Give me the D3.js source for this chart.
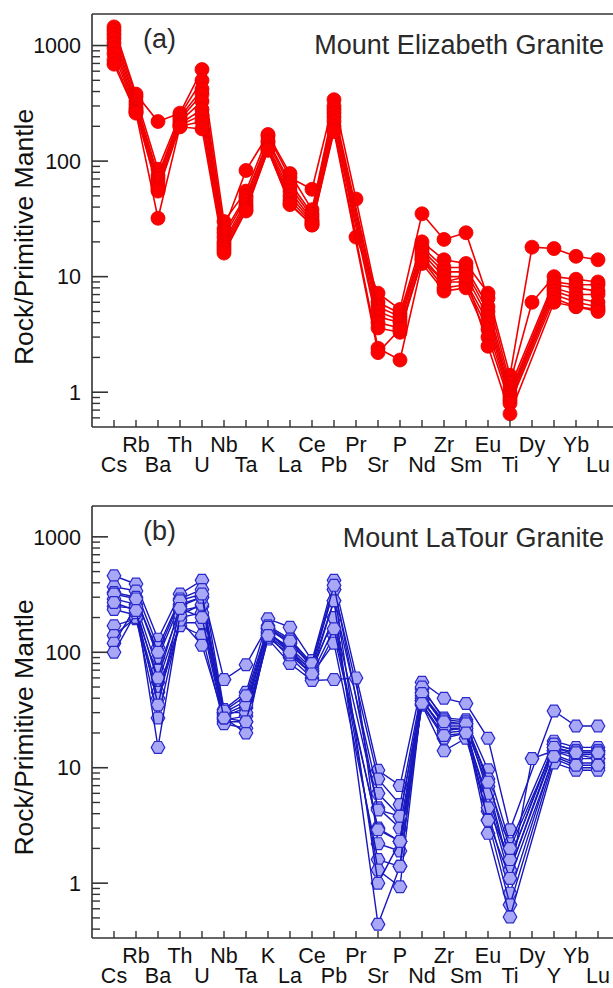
<!DOCTYPE html>
<html><head><meta charset="utf-8">
<script src="https://cdn.jsdelivr.net/npm/d3@7"></script>
<style>html,body{margin:0;padding:0;background:#fff;}svg{display:block;}</style>
</head><body>
<script>
// ---------- DATA ----------
const elements = ["Cs","Rb","Ba","Th","U","Nb","Ta","K","La","Ce","Pb","Pr","Sr","P","Nd","Zr","Sm","Eu","Ti","Dy","Y","Yb","Lu"];
const yTickLabels = ["1","10","100","1000"];
const yTickValues = [1, 10, 100, 1000];

// Mount Elizabeth Granite samples (rock / primitive mantle)
const ME1 = [1450,380,220,260,620,30,55,165,72,57,340,47,6,4.8,20,14,13,7.2,1.4,18,17.5,15,14];
const ME2 = [1350,360,85,250,500,26,83,170,78,38,300,22,7.2,5.2,35,21,24,6.5,1.2,6,10,9.5,9];
const ME3 = [1250,330,75,240,420,24,50,150,65,35,280,null,5.5,4.5,18,12,12,5.5,1.1,null,9,8.5,8.5];
const ME4 = [1150,310,70,230,380,22,48,145,60,33,260,null,5,4.2,17,11,11,5,1.0,null,8.5,8,7.5];
const ME5 = [1050,290,65,220,330,20,45,135,55,31,240,null,4.5,4,16,10,10,4.5,0.95,null,8,7,7];
const ME6 = [950,280,60,210,280,19,42,130,50,30,220,null,4,3.6,15,9,9,4,0.9,null,7.5,6.5,6];
const ME7 = [850,270,57,205,250,18,40,128,46,29,200,null,3.6,3.3,14,8,8.5,3.5,0.85,null,7,6,5.5];
const ME8 = [750,265,55,200,220,17,38,125,43,28,190,null,2.4,1.9,13,7.5,8,3,0.8,null,6.5,5.5,5.2];
const ME9 = [690,260,32,198,190,16,37,124,42,28,180,null,2.2,3.5,14,9,10,2.5,0.65,null,6,5.5,5];

// Mount LaTour Granite samples
const LT1  = [460,390,130,320,420,32,45,195,165,85,420,null,9.5,7,55,40,36,18,2.9,null,31,23,23];
const LT2  = [370,340,110,290,350,58,78,170,130,80,350,null,8,4.8,48,27,26,9.6,2.2,null,17,15,15];
const LT3  = [330,300,90,260,300,30,38,160,120,75,280,null,6,3.8,42,24,24,8,1.6,null,16,14,14];
const LT4  = [290,260,70,230,250,28,33,150,100,70,200,null,4.5,3,38,21,22,6.9,1.3,null,14,13,13];
const LT5  = [250,240,55,200,220,26,28,140,90,60,140,null,3,2.3,35,18,20,5.3,1.1,12,14,12,12];
const LT6  = [235,210,45,180,180,25,25,130,80,57,58,60,2.2,1.9,35,14,18,4.2,0.82,null,13,11,11];
const LT7  = [170,195,40,170,140,24,22,135,95,65,120,null,1.6,1.4,45,23,23,3.5,0.65,null,12,10,10];
const LT8  = [140,200,27,190,115,27,20,145,110,72,200,null,1.3,0.93,40,20,21,2.7,0.51,null,11,9.5,9.5];
const LT9  = [120,250,15,210,260,30,30,160,120,78,350,null,1.0,2.3,50,26,25,6,1.3,null,15,13,12];
const LT10 = [100,220,60,250,300,29,35,150,105,68,280,null,0.44,1.4,38,22,22,4.5,1.6,null,16,14,14];
const LT11 = [320,290,100,280,320,31,42,165,125,80,380,null,4.3,3.8,44,25,24,7.5,2.0,null,15,13.5,13.5];
const LT12 = [270,230,35,240,200,27,25,140,100,65,160,null,2.9,2.3,36,19,20,3.5,1.1,null,12.5,10.5,10.5];

const elizabethSamples = [ME1,ME2,ME3,ME4,ME5,ME6,ME7,ME8,ME9];
const latourSamples = [LT1,LT2,LT3,LT4,LT5,LT6,LT7,LT8,LT9,LT10,LT11,LT12];

// ---------- DRAW ----------
const W = 613, H = 988;
const FONT = "'Liberation Sans', Arial, Helvetica, sans-serif";
const svg = d3.select("body").append("svg").attr("width", W).attr("height", H)
  .style("font-family", FONT);

const x = d3.scaleLinear().domain([-1, elements.length - 1]).range([92, 598]);

function hexPath(r) {
  const p = d3.path();
  for (let k = 0; k < 6; k++) {
    const a = Math.PI / 3 * k;
    const px = r * Math.cos(a), py = r * Math.sin(a);
    if (k === 0) p.moveTo(px, py); else p.lineTo(px, py);
  }
  p.closePath();
  return p.toString();
}

function drawPanel(cfg) {
  const g = svg.append("g");
  const y = d3.scaleLog().domain(cfg.yDomain).range([cfg.bottom, cfg.top]);
  const axisColor = "#333";

  // data
  const line = d3.line().x(d => x(d.i)).y(d => y(d.v));
  cfg.samples.forEach(s => {
    const pts = s.map((v, i) => ({i, v})).filter(d => d.v != null);
    const sg = g.append("g");
    sg.append("path").attr("d", line(pts)).attr("fill", "none")
      .attr("stroke", cfg.lineColor).attr("stroke-width", cfg.lineWidth);
    if (cfg.marker === "circle") {
      sg.selectAll("circle").data(pts).join("circle")
        .attr("cx", d => x(d.i)).attr("cy", d => y(d.v)).attr("r", 7)
        .attr("fill", cfg.fill).attr("stroke", cfg.stroke).attr("stroke-width", 0.8);
    } else {
      const hp = hexPath(6.8);
      sg.selectAll("path.m").data(pts).join("path").attr("class", "m")
        .attr("d", hp).attr("transform", d => `translate(${x(d.i)},${y(d.v)})`)
        .attr("fill", cfg.fill).attr("stroke", cfg.stroke).attr("stroke-width", 1.2);
    }
  });

  // frame
  g.append("line").attr("x1", 92).attr("x2", W).attr("y1", cfg.top).attr("y2", cfg.top)
    .attr("stroke", axisColor).attr("stroke-width", 1.6);
  g.append("line").attr("x1", 92).attr("x2", W).attr("y1", cfg.bottom).attr("y2", cfg.bottom)
    .attr("stroke", axisColor).attr("stroke-width", 1.6);
  g.append("line").attr("x1", 92).attr("x2", 92).attr("y1", cfg.top).attr("y2", cfg.bottom)
    .attr("stroke", axisColor).attr("stroke-width", 1.6);

  // y ticks
  const [lo, hi] = cfg.yDomain;
  const minors = [];
  for (let e = -2; e <= 4; e++) for (let m = 2; m <= 9; m++) {
    const v = m * Math.pow(10, e);
    if (v > lo * 1.001 && v < hi) minors.push(v);
  }
  g.selectAll("line.minor").data(minors).join("line").attr("class", "minor")
    .attr("x1", 92).attr("x2", 100).attr("y1", d => y(d)).attr("y2", d => y(d))
    .attr("stroke", axisColor).attr("stroke-width", 1.4);
  g.selectAll("line.major").data(yTickValues).join("line").attr("class", "major")
    .attr("x1", 92).attr("x2", 108).attr("y1", d => y(d)).attr("y2", d => y(d))
    .attr("stroke", axisColor).attr("stroke-width", 1.6);
  g.selectAll("text.ylab").data(yTickValues).join("text").attr("class", "ylab")
    .attr("x", 81).attr("y", d => y(d)).attr("dy", "0.36em")
    .attr("text-anchor", "end").attr("font-size", 21.5).attr("fill", "#111")
    .text((d, i) => yTickLabels[i]);

  // x ticks & labels
  g.selectAll("line.xt").data(elements).join("line").attr("class", "xt")
    .attr("x1", (d, i) => x(i)).attr("x2", (d, i) => x(i))
    .attr("y1", cfg.bottom).attr("y2", cfg.bottom - 7)
    .attr("stroke", axisColor).attr("stroke-width", 1.4);
  g.selectAll("text.xl").data(elements).join("text").attr("class", "xl")
    .attr("x", (d, i) => x(i))
    .attr("y", (d, i) => cfg.bottom + (i % 2 === 1 ? 25 : 44.5))
    .attr("text-anchor", "middle").attr("font-size", 21.5).attr("fill", "#111")
    .text(d => d);

  // axis title
  g.append("text").attr("transform", `translate(33,${cfg.titleY}) rotate(-90)`)
    .attr("text-anchor", "middle").attr("font-size", 26.5).attr("fill", "#111")
    .text("Rock/Primitive Mantle");

  // panel labels
  g.append("text").attr("x", 143).attr("y", cfg.top + cfg.tagDy)
    .attr("font-size", 27).attr("fill", "#2a2a2a").text(cfg.tag);
  g.append("text").attr("x", 604).attr("y", cfg.top + cfg.nameDy)
    .attr("text-anchor", "end").attr("font-size", 27).attr("fill", "#2a2a2a").text(cfg.name);
}

drawPanel({
  samples: elizabethSamples, yDomain: [0.5, 1875], top: 14, bottom: 427, titleY: 237,
  marker: "circle", lineColor: "#f00000", lineWidth: 1.6, fill: "#ff0000", stroke: "#e80000",
  tag: "(a)", name: "Mount Elizabeth Granite", tagDy: 34, nameDy: 40
});
drawPanel({
  samples: latourSamples, yDomain: [0.335, 1850], top: 506, bottom: 938, titleY: 727.5,
  marker: "hex", lineColor: "#1818bd", lineWidth: 1.4, fill: "#a8a8f6", stroke: "#2a2acc",
  tag: "(b)", name: "Mount LaTour Granite", tagDy: 34, nameDy: 41
});
</script>
</body></html>
